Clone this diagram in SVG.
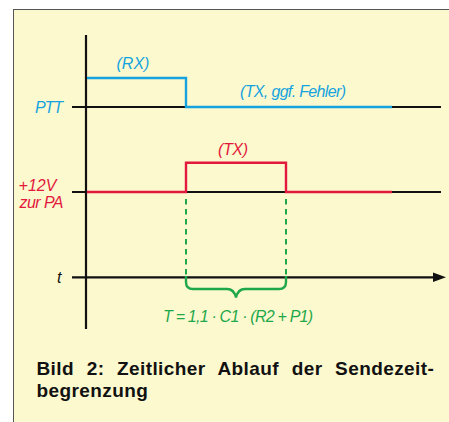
<svg xmlns="http://www.w3.org/2000/svg" width="449" height="422" viewBox="0 0 449 422">
<style>
.lbl{font-family:"Liberation Sans",Arial,sans-serif;font-style:italic;font-size:16px}
.blue{fill:#14a3df}
.red{fill:#e2183c}
.green{fill:#1fa84a}
.ax{stroke:#111;stroke-width:2.2;fill:none}
.cap{font-family:"Liberation Sans",Arial,sans-serif;font-weight:bold;font-size:19px;fill:#111;letter-spacing:0.4px}
</style>
<rect x="0" y="0" width="449" height="422" fill="#ffffff"/>
<rect x="13.5" y="9.5" width="440" height="420" fill="#fdf9cf" stroke="#555" stroke-width="1"/>
<g id="axes">
<line class="ax" x1="86" y1="35" x2="86" y2="329"/>
<line class="ax" x1="72" y1="107" x2="441" y2="107"/>
<line class="ax" x1="72" y1="192" x2="441" y2="192"/>
<line class="ax" x1="72" y1="277.3" x2="435" y2="277.3"/>
<polygon points="446,277.3 433,272.6 433,282" fill="#111"/>
</g>
<g id="ptt">
<polyline points="87,78 186,78 186,107 392,107" fill="none" stroke="#14a3df" stroke-width="2.4"/>
<text class="lbl blue" x="35" y="112.5" textLength="28">PTT</text>
<text class="lbl blue" x="116.5" y="69">(RX)</text>
<text class="lbl blue" x="240" y="97" textLength="106">(TX, ggf. Fehler)</text>
</g>
<g id="pa">
<polyline points="87,192 186,192 186,162.7 286,162.7 286,192 392,192" fill="none" stroke="#e2183c" stroke-width="2.4"/>
<text class="lbl red" x="218" y="155" textLength="30">(TX)</text>
<text class="lbl red" x="18.5" y="190.7" textLength="38">+12V</text>
<text class="lbl red" x="19.5" y="208.3" textLength="44">zur PA</text>
</g>
<g id="connectors">
<line x1="186" y1="199" x2="186" y2="276" stroke="#1fa84a" stroke-width="2" stroke-dasharray="5.5,4.5"/>
<line x1="286" y1="199" x2="286" y2="276" stroke="#1fa84a" stroke-width="2" stroke-dasharray="5.5,4.5"/>
<path d="M186,276 V282 Q186,289 193,289 H227 Q234,289 236,297.5 Q238,289 245,289 H279 Q286,289 286,282 V276" fill="none" stroke="#1fa84a" stroke-width="2.4"/>
</g>
<g id="time">
<text class="lbl" fill="#111" x="57" y="283">t</text>
<text class="lbl green" x="163" y="321.7" textLength="150">T = 1,1 · C1 · (R2 + P1)</text>
</g>
<g id="caption">
<text class="cap" x="36.5" y="375" word-spacing="7">Bild 2: Zeitlicher Ablauf der Sendezeit-</text>
<text class="cap" x="36.5" y="397">begrenzung</text>
</g>
</svg>
